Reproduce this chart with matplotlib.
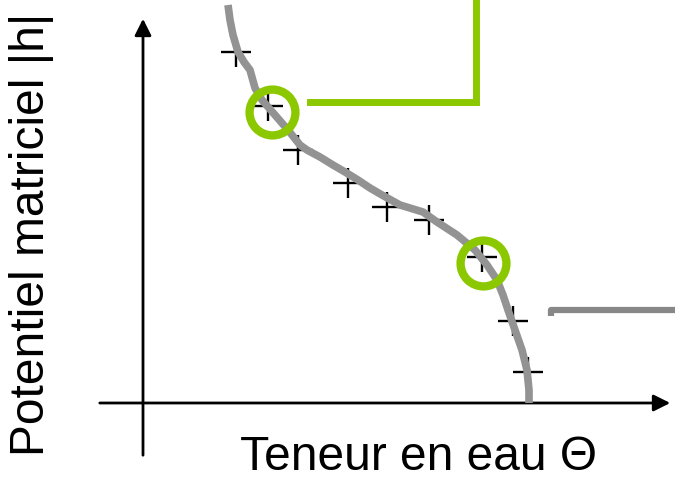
import matplotlib.pyplot as plt

# gray retention curve (pixel-like coordinates, y down)
curve_x = [228, 230, 233, 238, 244, 250, 255, 262, 275, 288, 300, 307, 320, 333, 345, 358, 370, 382,
           400, 423, 437, 457, 475, 487, 497, 503, 508, 515, 522, 527, 529, 529]
curve_y = [5, 20, 35, 52, 62, 70, 88, 100, 115, 130, 145, 150, 157, 165, 172, 180, 188, 195,
           205, 212, 222, 235, 250, 265, 280, 295, 310, 330, 350, 370, 390, 403]

# measured points (+)
meas_x = [236, 268, 298, 348, 387, 429, 482, 513, 528]
meas_y = [52, 106, 150, 183, 207, 220, 257, 321, 372]

# highlighted points
circ_x = [272, 483]
circ_y = [112, 263]

green = '#8cc800'
gray = '#939393'

fig = plt.figure(figsize=(6.75, 4.82), dpi=100)
ax = fig.add_axes([0, 0, 1, 1])
ax.set_xlim(0, 675)
ax.set_ylim(482, 0)
ax.axis('off')

# axes with arrows
ax.annotate('', xy=(673, 403), xytext=(97, 403),
            arrowprops=dict(arrowstyle='-|>', lw=2, color='black', mutation_scale=25))
ax.annotate('', xy=(143, 16), xytext=(143, 458),
            arrowprops=dict(arrowstyle='-|>', lw=2, color='black', mutation_scale=25))

# bracket lines
ax.plot([310, 476, 476], [102, 102, 0], color=green, lw=5, solid_joinstyle='miter')
ax.plot([551, 551, 675], [316, 310, 310], color='#888888', lw=4.5, solid_capstyle='butt')

ax.plot(meas_x, meas_y, '+', color='black', markersize=21, mew=1.7, zorder=3)
ax.plot(curve_x, curve_y, color=gray, lw=5.5, solid_capstyle='butt', zorder=4)
ax.plot(circ_x, circ_y, 'o', mfc='none', mec=green, markersize=33, mew=6, zorder=5)

ax.text(418, 458, 'Teneur en eau Θ', fontsize=34.5, family='Liberation Sans',
        ha='center', va='center')
ax.text(32, 234, 'Potentiel matriciel |h|', fontsize=34.5, family='Liberation Sans',
        ha='center', va='center', rotation=90)

fig.savefig('out.png', dpi=100)
